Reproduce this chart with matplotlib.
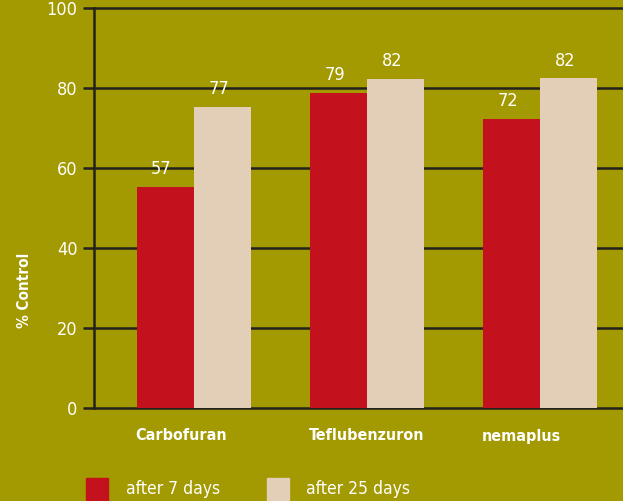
import numpy as np
import matplotlib.pyplot as plt
from matplotlib.patches import Rectangle

# Data
categories = ['Carbofuran', 'Teflubenzuron', 'nemaplus']
after_7 = [55.3, 78.8, 72.3]
after_25 = [75.3, 82.3, 82.5]
labels_7 = ['57', '79', '72']
labels_25 = ['77', '82', '82']
yticks = [0, 20, 40, 60, 80, 100]

BG = '#a39900'
RED = '#c3121e'
BEIGE = '#e3cfb8'
LINE = '#24221c'

plt.rcParams['font.family'] = ['DejaVu Sans']

fig = plt.figure(figsize=(6.23, 5.01), dpi=100, facecolor=BG)
ax = fig.add_axes([94 / 623, 1 - 408 / 501, 1 - 94 / 623, 400 / 501])
ax.set_facecolor(BG)

x = np.arange(len(categories))
w = 0.327

ax.bar(x - w / 2, after_7, w, color=RED, zorder=3)
ax.bar(x + w / 2, after_25, w, color=BEIGE, zorder=3)

for i in range(len(categories)):
    ax.annotate(labels_7[i], (x[i] - w / 2, after_7[i]), xytext=(-3, 6),
                textcoords='offset points', ha='center', va='bottom',
                color='white', fontsize=13, fontstretch='condensed')
    ax.annotate(labels_25[i], (x[i] + w / 2, after_25[i]), xytext=(-2, 6),
                textcoords='offset points', ha='center', va='bottom',
                color='white', fontsize=13, fontstretch='condensed')

ax.set_xlim(-0.578, 2.48)
ax.set_ylim(0, 100)
ax.set_yticks(yticks)
ax.set_yticklabels([str(t) for t in yticks], color='white', fontsize=13,
                   fontstretch='condensed')
ax.tick_params(axis='y', length=8, width=1.8, color=LINE, pad=4)
ax.set_xticks([])

# horizontal grid lines reaching the tick stubs
ax.grid(axis='y', color=LINE, linewidth=1.8, zorder=1)
for gl in ax.get_ygridlines():
    gl.set_clip_on(False)

for s in ['top', 'right', 'bottom']:
    ax.spines[s].set_visible(False)
ax.spines['left'].set_color(LINE)
ax.spines['left'].set_linewidth(1.8)
ax.spines['left'].set_zorder(4)

# category labels, roughly left aligned with the red bars
for i, c in enumerate(categories):
    ax.text(x[i] - w - 0.01, -7, c, ha='left', va='center', color='white',
            fontsize=11.5, fontweight='bold', fontstretch='condensed',
            clip_on=False)

fig.text(25 / 623, 1 - 290 / 501, '% Control', rotation=90, ha='center',
         va='center', color='white', fontsize=11, fontweight='bold',
         fontstretch='condensed')

# legend
leg_items = [(86, RED, 'after 7 days', 126), (267, BEIGE, 'after 25 days', 306)]
for px, col, txt, tx in leg_items:
    fig.patches.append(Rectangle((px / 623, 1 - 500 / 501), 22 / 623, 22 / 501,
                                 transform=fig.transFigure, color=col))
    fig.text(tx / 623, 1 - 489 / 501, txt, ha='left', va='center',
             color='white', fontsize=12.5, fontstretch='condensed')

fig.savefig('out.png', dpi=100, facecolor=BG)
